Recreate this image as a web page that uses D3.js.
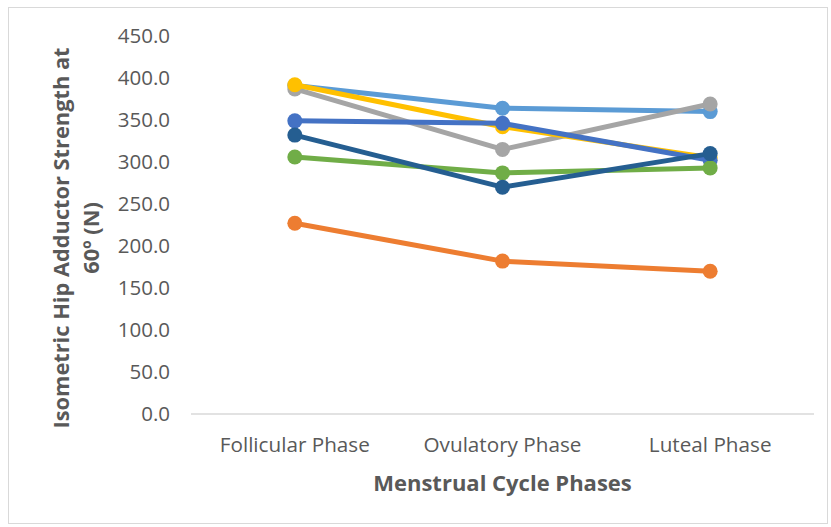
<!DOCTYPE html>
<html>
<head>
<meta charset="utf-8">
<script src="https://cdn.jsdelivr.net/npm/d3@7"></script>
<style>
  html, body { margin: 0; padding: 0; background: #ffffff; }
  svg { display: block; }
  text { font-family: "Open Sans", "Noto Sans", sans-serif; }
</style>
</head>
<body>
<svg id="chart" width="831" height="527"></svg>
<script>
// Menstrual cycle phases on the x axis
const phases = ["Follicular Phase", "Ovulatory Phase", "Luteal Phase"];

// Isometric hip adductor strength at 60º (N), one array per participant
const participant1 = [391, 364, 360];
const participant2 = [227, 182, 170];
const participant3 = [387, 315, 369];
const participant4 = [392, 342, 305];
const participant5 = [349, 346, 302];
const participant6 = [306, 287, 293];
const participant7 = [332, 270, 310];

const seriesColors = ["#5B9BD5", "#ED7D31", "#A5A5A5", "#FFC000", "#4472C4", "#70AD47", "#255E91"];

// y axis tick values
const yTicks = [0, 50, 100, 150, 200, 250, 300, 350, 400, 450];

const series = [participant1, participant2, participant3, participant4,
                participant5, participant6, participant7];

const svg = d3.select("#chart");

// chart frame
svg.append("rect")
  .attr("x", 8.5).attr("y", 7.5)
  .attr("width", 819).attr("height", 516)
  .attr("fill", "#ffffff")
  .attr("stroke", "#d9d9d9").attr("stroke-width", 1);

const x = d3.scalePoint().domain(phases).range([191, 814]).padding(0.5);
const y = d3.scaleLinear().domain([0, 450]).range([414, 36]);

// category axis line
svg.append("line")
  .attr("x1", 191).attr("x2", 814)
  .attr("y1", y(0)).attr("y2", y(0))
  .attr("stroke", "#d9d9d9").attr("stroke-width", 1.5);

// y tick labels
svg.append("g").selectAll("text")
  .data(yTicks).join("text")
  .attr("x", 170)
  .attr("y", d => y(d))
  .attr("dy", "0.36em")
  .attr("text-anchor", "end")
  .attr("font-size", 20.5)
  .attr("fill", "#595959")
  .text(d => d.toFixed(1));

// category labels
svg.append("g").selectAll("text")
  .data(phases).join("text")
  .attr("x", d => x(d))
  .attr("y", 452)
  .attr("text-anchor", "middle")
  .attr("font-size", 20.7)
  .attr("fill", "#595959")
  .text(d => d);

// axis titles
svg.append("text")
  .attr("x", x(phases[1]))
  .attr("y", 491)
  .attr("text-anchor", "middle")
  .attr("font-size", 22)
  .attr("font-weight", "bold")
  .attr("fill", "#595959")
  .text("Menstrual Cycle Phases");

const yTitle = svg.append("text")
  .attr("transform", "translate(0,238) rotate(-90)")
  .attr("text-anchor", "middle")
  .attr("font-size", 21.8)
  .attr("font-weight", "bold")
  .attr("fill", "#595959");
yTitle.append("tspan").attr("x", 0).attr("y", 69).text("Isometric Hip Adductor Strength at");
yTitle.append("tspan").attr("x", 0).attr("y", 99).text("60º (N)");

// lines and markers
const line = d3.line()
  .x((d, i) => x(phases[i]))
  .y(d => y(d));

const g = svg.append("g");
series.forEach((vals, si) => {
  const sg = g.append("g");
  sg.append("path")
    .attr("d", line(vals))
    .attr("fill", "none")
    .attr("stroke", seriesColors[si])
    .attr("stroke-width", 5)
    .attr("stroke-linejoin", "round")
    .attr("stroke-linecap", "round");
  sg.selectAll("circle")
    .data(vals).join("circle")
    .attr("cx", (d, i) => x(phases[i]))
    .attr("cy", d => y(d))
    .attr("r", 7.5)
    .attr("fill", seriesColors[si]);
});
</script>
</body>
</html>
